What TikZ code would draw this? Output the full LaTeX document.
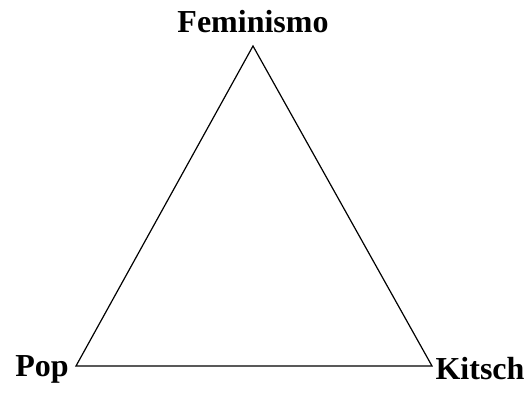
\documentclass[tikz,border=0pt]{standalone}
\usepackage{fontspec}
\setmainfont{Liberation Serif}
\usetikzlibrary{positioning}

\begin{document}
\begin{tikzpicture}[
  x=0.5pt, y=-0.5pt,
  vlabel/.style={font=\fontsize{16}{18}\selectfont\bfseries, inner sep=0pt},
  edge/.style={line width=0.6pt, line join=miter},
]
\useasboundingbox (0,0) rectangle (532,406);
\coordinate (fem) at (253,46);
\coordinate (pop) at (76,366);
\coordinate (kit) at (432,366);

\node[vlabel] (femlabel) at (253,22) {Feminismo};
\node[vlabel] (poplabel) at (42,369) {Pop};
\node[vlabel] (kitlabel) at (480,369) {Kitsch};

\draw[edge] (fem) -- (pop) -- (kit) -- cycle;
\end{tikzpicture}
\end{document}
